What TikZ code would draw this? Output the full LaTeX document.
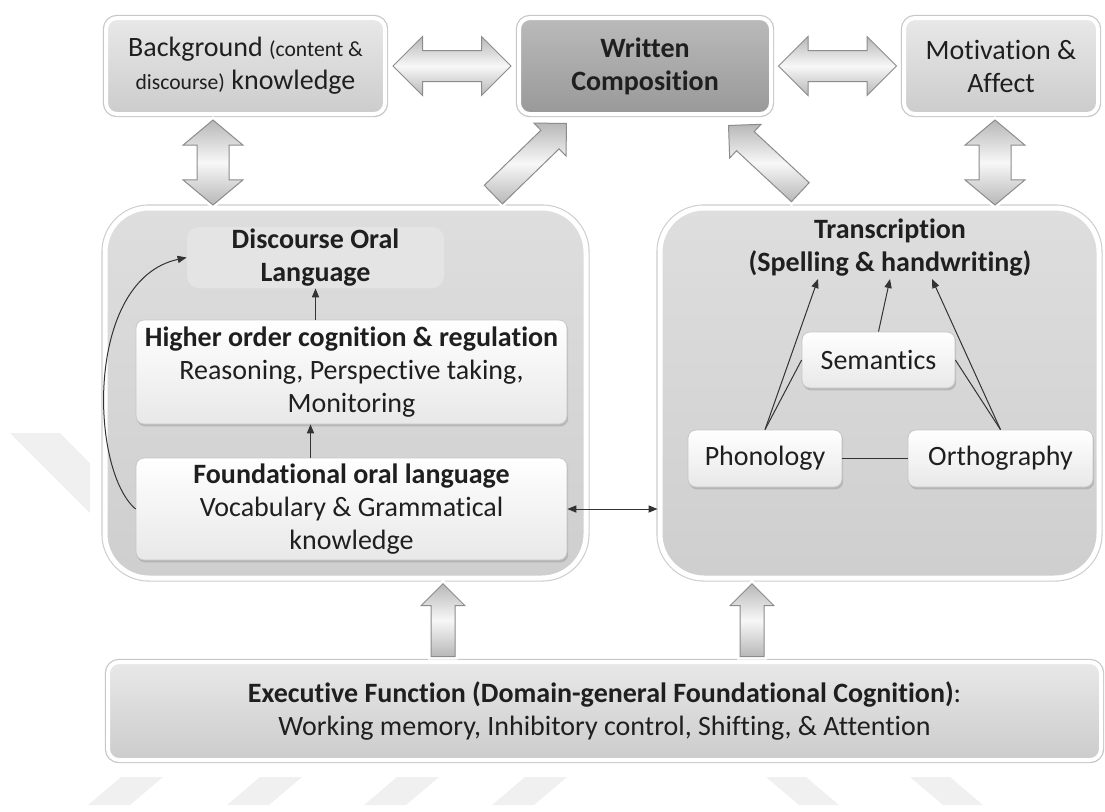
\documentclass[tikz,border=0pt]{standalone}
\usepackage{fontspec}
\setmainfont{Carlito}[Ligatures=NoCommon]
\usetikzlibrary{shapes.arrows,shadows,arrows.meta,calc}

\begin{document}
\begin{tikzpicture}[x=0.5pt, y=-0.5pt,
  base/.style={font=\fontsize{14}{16.5}\selectfont, text=black!88, align=center, inner sep=0pt},
  topbox/.style={base, rectangle, rounded corners=5.5pt, top color=black!9, bottom color=black!20,
    draw=white, line width=2pt, preaction={draw=black!22, line width=3.2pt},
    drop shadow={opacity=0.2, shadow xshift=0.6pt, shadow yshift=-1pt}},
  darkbox/.style={topbox, top color=black!27, bottom color=black!40, font=\fontsize{14}{16.5}\selectfont\bfseries},
  panel/.style={rectangle, rounded corners=22pt, top color=black!13, bottom color=black!19,
    draw=white, line width=2.5pt, preaction={draw=black!20, line width=3.6pt}},
  innerbox/.style={base, rectangle, rounded corners=4pt, top color=white, bottom color=black!9,
    draw=black!22, line width=0.4pt,
    drop shadow={opacity=0.35, shadow xshift=0.6pt, shadow yshift=-1.2pt}},
  softbox/.style={base, rectangle, rounded corners=6pt, fill=black!10.5,
    font=\fontsize{14}{16.5}\selectfont\bfseries},
  blockarrow/.style={inner xsep=0pt, draw=black!45, line width=0.5pt,
    top color=black!28, bottom color=black!28, middle color=black!3,
    preaction={draw=white, line width=3pt}},
  conn/.style={draw=black!80, line width=0.5pt},
  arr/.style={conn, -{Triangle[length=4.5pt,width=3.6pt]}},
  twoway/.style={conn, {Triangle[length=4.5pt,width=3.6pt]}-{Triangle[length=4.5pt,width=3.6pt]}},
  wmark/.style={fill=black!6}
]
\useasboundingbox (0,0) rectangle (1105,811);

% faint diagonal stripes in the background
\fill[wmark] (10,433) -- (60,433) -- (90,463) -- (90,513) -- cycle;
\foreach \a in {88,227,364,492}
  \fill[wmark] (\a,805) -- (\a+42,805) -- (\a+75,777) -- (\a+33,777) -- cycle;
\foreach \b in {766,910}
  \fill[wmark] (\b,777) -- (\b+40,777) -- (\b+73,805) -- (\b+33,805) -- cycle;

% top row
\node[topbox, minimum width=139.5pt, minimum height=48pt] (bg) at (245.5,66)
  {Background {\fontsize{10.8}{13}\selectfont (content \&}\\{\fontsize{10.8}{13}\selectfont discourse)} knowledge};
\node[darkbox, minimum width=126pt, minimum height=48pt] (wc) at (645,66) {Written\\Composition};
\node[topbox, minimum width=97pt, minimum height=48pt] (ma) at (1001,66) {Motivation \&\\Affect};

% two large panels
\node[panel, minimum width=240.5pt, minimum height=185pt] (lp) at (345.5,393) {};
\node[panel, minimum width=219.5pt, minimum height=185pt] (rp) at (879.5,393) {};

% executive function box
\node[topbox, minimum width=496.5pt, minimum height=49pt] (ef) at (604.5,711)
  {\textbf{Executive Function (Domain-general Foundational Cognition)}:\\
   Working memory, Inhibitory control, Shifting, \& Attention};

% block arrows
\node[blockarrow, double arrow, inner ysep=7.5pt, minimum height=59pt,
  double arrow head extend=7pt] (a1) at ($(bg.east)!0.5!(wc.west)$) {};
\node[blockarrow, double arrow, inner ysep=7.5pt, minimum height=59pt,
  double arrow head extend=7pt] (a2) at ($(wc.east)!0.5!(ma.west)$) {};
\node[blockarrow, double arrow, rotate=90, inner ysep=7.75pt, minimum height=42.5pt,
  double arrow head extend=7pt, double arrow tip angle=100] (a3) at (213,162.5) {};
\node[blockarrow, double arrow, rotate=90, inner ysep=7.75pt, minimum height=42.5pt,
  double arrow head extend=7pt, double arrow tip angle=100] (a4) at (995,162.5) {};
\node[blockarrow, single arrow, rotate=44.2, anchor=tip, inner ysep=6.25pt,
  minimum height=51pt, single arrow head extend=5pt] (a5) at (567,123) {};
\node[blockarrow, single arrow, rotate=137.1, anchor=tip, inner ysep=6.25pt,
  minimum height=49pt, single arrow head extend=5pt] (a6) at (728,125) {};
\node[blockarrow, single arrow, rotate=90, anchor=tip, inner ysep=5.75pt,
  minimum height=36.5pt, single arrow head extend=5pt] (a7) at (443,583) {};
\node[blockarrow, single arrow, rotate=90, anchor=tip, inner ysep=5.75pt,
  minimum height=36.5pt, single arrow head extend=5pt] (a8) at (752,583) {};

% oral language panel
\node[softbox, minimum width=128.5pt, minimum height=30.5pt] (disc) at (315.5,257.5)
  {Discourse Oral\\Language};
\node[innerbox, minimum width=215.5pt, minimum height=52pt] (hoc) at (351.5,372)
  {\textbf{Higher order cognition \& regulation}\\Reasoning, Perspective taking,\\Monitoring};
\node[innerbox, minimum width=215.5pt, minimum height=51pt] (fol) at (351.5,509)
  {\textbf{Foundational oral language}\\Vocabulary \& Grammatical\\knowledge};

% transcription panel
\node[base, font=\fontsize{14}{16.5}\selectfont\bfseries] (tr) at (890,248)
  {Transcription\\(Spelling \& handwriting)};
\node[innerbox, minimum width=76.5pt, minimum height=28pt] (sem) at (878.5,360) {Semantics};
\node[innerbox, minimum width=77pt, minimum height=28.5pt] (pho) at (765,458.5) {Phonology};
\node[innerbox, minimum width=92.5pt, minimum height=28.5pt] (ort) at (1000.5,458.5) {Orthography};

\coordinate (t1) at (818,279);
\coordinate (t2) at (890,279);
\coordinate (t3) at (932,279);

% thin connectors
\draw[arr] (hoc.north -| disc.south) -- (disc.south);
\draw[arr] ($(fol.north)+(-41,0)$) -- ($(hoc.south)+(-41,0)$);
\draw[arr] (fol.west) .. controls +(-46,-39) and +(-102,22) .. (disc.west);
\draw[twoway] (fol.east) -- (fol.east -| rp.west);

\draw[arr] (pho.north) -- (t1);
\draw[conn] (pho.north) -- (sem.west);
\draw[arr] (sem.north) -- (t2);
\draw[arr] (ort.north) -- (t3);
\draw[conn] (ort.north) -- (sem.east);
\draw[conn] (pho.east) -- (ort.west);
\end{tikzpicture}
\end{document}
